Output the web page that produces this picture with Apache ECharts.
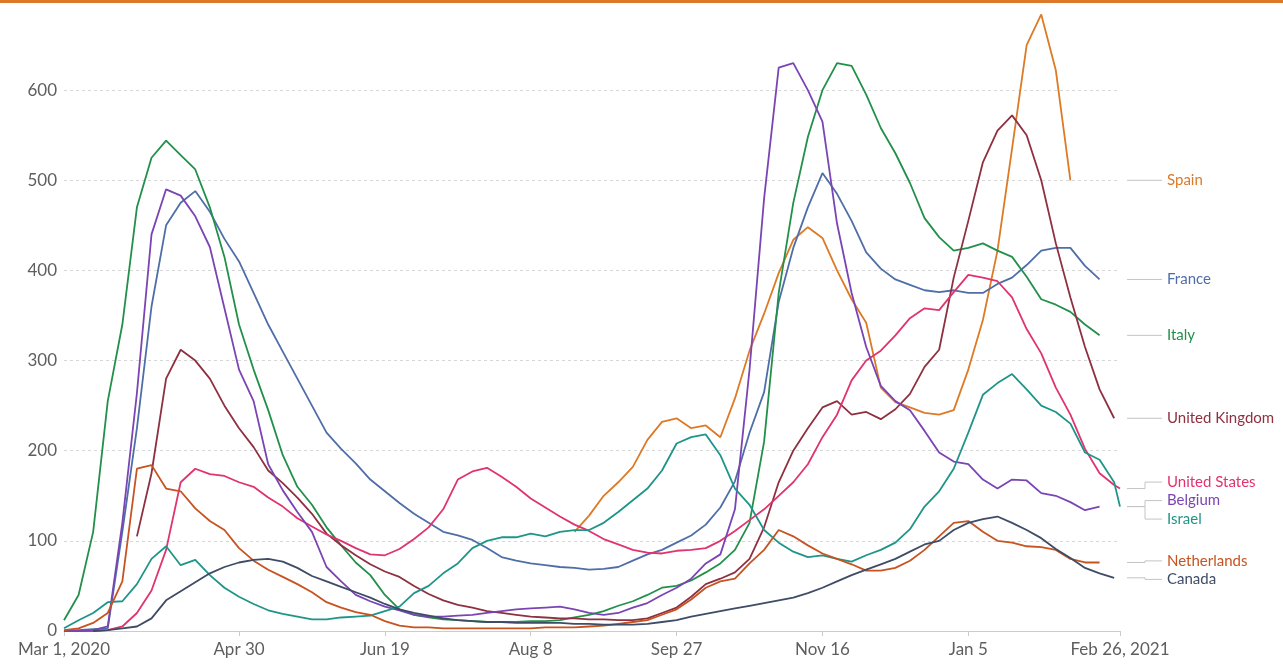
<!DOCTYPE html>
<html>
<head>
<meta charset="utf-8">
<script src="https://cdn.jsdelivr.net/npm/echarts@6/dist/echarts.min.js"></script>
<style>
html, body { margin: 0; padding: 0; background: #fff; }
#chart { width: 1283px; height: 665px; }
</style>
</head>
<body>
<div id="chart"></div>
<script>
'use strict';

// days since Mar 1, 2020 (sampled every 5 days)
var days = [0, 5, 10, 15, 20, 25, 30, 35, 40, 45, 50, 55, 60, 65, 70, 75, 80, 85, 90, 95,
    100, 105, 110, 115, 120, 125, 130, 135, 140, 145, 150, 155, 160, 165, 170, 175, 180, 185, 190, 195,
    200, 205, 210, 215, 220, 225, 230, 235, 240, 245, 250, 255, 260, 265, 270, 275, 280, 285, 290, 295,
    300, 305, 310, 315, 320, 325, 330, 335, 340, 345, 350, 355, 360, 362];

var tickDays = [0, 60, 110, 160, 210, 260, 310, 362];
var tickLabels = ['Mar 1, 2020', 'Apr 30', 'Jun 19', 'Aug 8', 'Sep 27', 'Nov 16', 'Jan 5', 'Feb 26, 2021'];

var spain = [null, null, null, null, null, null, null, null, null, null,
    null, null, null, null, null, null, null, null, null, null,
    null, null, null, null, null, null, null, null, null, null,
    null, null, null, null, null, 110, 128, 150, 165, 182,
    212, 232, 236, 225, 228, 215, 258, 311, 352, 397,
    434, 448, 436, 400, 368, 342, 270, 254, 248, 242,
    240, 245, 290, 345, 422, 535, 650, 684, 622, 500,
    null, null, null, null];
var france = [0, 1, 2, 3, 110, 225, 360, 450, 475, 488,
    465, 435, 410, 375, 340, 310, 280, 250, 220, 202,
    186, 168, 155, 142, 130, 120, 110, 106, 101, 92,
    82, 78, 75, 73, 71, 70, 68, 69, 71, 78,
    85, 90, 98, 106, 118, 137, 166, 220, 265, 365,
    425, 470, 508, 485, 455, 420, 402, 390, 384, 378,
    376, 378, 375, 375, 385, 392, 406, 422, 425, 425,
    405, 390, null, null];
var italy = [12, 40, 110, 255, 340, 470, 525, 544, 528, 512,
    470, 415, 340, 290, 245, 195, 160, 140, 115, 95,
    76, 62, 40, 24, 18, 15, 13, 12, 11, 10,
    10, 10, 11, 11, 12, 15, 18, 22, 28, 33,
    40, 48, 50, 56, 65, 75, 90, 120, 210, 375,
    475, 548, 600, 630, 627, 595, 558, 530, 497, 458,
    437, 422, 425, 430, 422, 415, 393, 368, 362, 354,
    340, 328, null, null];
var unitedKingdom = [null, null, null, null, null, 105, 175, 280, 312, 300,
    280, 250, 225, 204, 178, 164, 148, 130, 108, 95,
    84, 74, 66, 60, 50, 41, 34, 29, 26, 22,
    20, 18, 16, 15, 14, 14, 13, 13, 12, 12,
    14, 20, 26, 38, 52, 58, 65, 80, 115, 165,
    200, 225, 248, 255, 240, 243, 235, 246, 263, 293,
    312, 392, 455, 520, 555, 572, 550, 500, 430, 370,
    315, 268, 236, null];
var unitedStates = [0, 0, 0, 1, 5, 20, 45, 90, 165, 180,
    174, 172, 165, 160, 148, 138, 125, 116, 107, 100,
    92, 85, 84, 91, 102, 115, 135, 168, 177, 181,
    171, 160, 147, 137, 127, 118, 111, 102, 96, 90,
    87, 86, 89, 90, 92, 100, 111, 123, 135, 150,
    165, 185, 215, 240, 278, 300, 311, 328, 347, 358,
    356, 376, 395, 392, 388, 370, 335, 308, 270, 240,
    202, 175, 162, 158];
var belgium = [0, 0, 1, 5, 120, 264, 440, 490, 483, 460,
    426, 358, 290, 255, 185, 156, 132, 110, 71, 55,
    40, 33, 27, 23, 18, 16, 16, 17, 18, 20,
    22, 24, 25, 26, 27, 24, 20, 18, 20, 26,
    31, 40, 48, 58, 75, 85, 135, 290, 480, 625,
    630, 600, 565, 452, 375, 315, 272, 255, 245, 222,
    198, 188, 185, 168, 158, 168, 167, 153, 150, 143,
    134, 138, null, null];
var israel = [3, 12, 20, 32, 33, 52, 80, 94, 73, 79,
    62, 48, 38, 30, 23, 19, 16, 13, 13, 15,
    16, 17, 22, 27, 42, 50, 64, 75, 92, 100,
    104, 104, 108, 105, 110, 112, 112, 120, 132, 145,
    158, 178, 208, 215, 218, 195, 158, 140, 112, 98,
    88, 82, 84, 80, 77, 84, 90, 98, 113, 138,
    155, 180, 220, 262, 275, 285, 268, 250, 243, 230,
    198, 190, 165, 138];
var netherlands = [1, 3, 9, 20, 55, 180, 184, 158, 155, 136,
    122, 112, 92, 78, 68, 60, 52, 43, 32, 26,
    21, 18, 11, 6, 4, 4, 3, 3, 3, 3,
    3, 3, 3, 4, 4, 4, 5, 6, 8, 10,
    12, 18, 24, 35, 48, 55, 58, 75, 90, 112,
    105, 95, 86, 80, 74, 67, 67, 70, 78, 90,
    105, 120, 122, 110, 100, 98, 94, 93, 90, 80,
    76, 76, null, null];
var canada = [null, null, 0, 1, 3, 5, 14, 34, 44, 54,
    64, 71, 76, 79, 80, 77, 70, 61, 55, 49,
    43, 37, 30, 24, 20, 17, 14, 12, 11, 10,
    10, 9, 9, 9, 9, 8, 8, 7, 7, 7,
    8, 10, 12, 16, 19, 22, 25, 28, 31, 34,
    37, 42, 48, 55, 62, 68, 74, 80, 88, 96,
    100, 112, 120, 124, 127, 120, 112, 103, 91, 81,
    70, 64, 59, null];

var countries = ['Spain', 'France', 'Italy', 'United Kingdom', 'United States',
    'Belgium', 'Israel', 'Netherlands', 'Canada'];
var countryValues = [spain, france, italy, unitedKingdom, unitedStates,
    belgium, israel, netherlands, canada];
var countryColors = ['#dd7a26', '#4f6ea8', '#22904a', '#8e3040', '#e0336f',
    '#7b44b4', '#1f958a', '#c75320', '#3e4c66'];

var chart = echarts.init(document.getElementById('chart'));

function toPairs(values) {
    return days.map(function(d, i) {
        return [d, values[i]];
    });
}

var series = countries.map(function(name, i) {
    return {
        name: name,
        type: 'line',
        data: toPairs(countryValues[i]),
        showSymbol: false,
        connectNulls: false,
        lineStyle: { width: 1.8, color: countryColors[i] },
        itemStyle: { color: countryColors[i] }
    };
});

var options = {
    animation: false,
    grid: { left: 64, right: 163, top: 0, bottom: 34 },
    xAxis: {
        type: 'value',
        min: 0,
        max: 362,
        splitLine: { show: false },
        axisLine: { lineStyle: { color: '#cccccc' } },
        axisTick: {
            customValues: tickDays,
            length: 5,
            lineStyle: { color: '#cccccc' }
        },
        axisLabel: {
            customValues: tickDays,
            color: '#5e5e5e',
            fontSize: 17,
            fontFamily: 'Lato',
            margin: 10,
            formatter: function(v) {
                var k = tickDays.indexOf(v);
                return k >= 0 ? tickLabels[k] : '';
            }
        }
    },
    yAxis: {
        type: 'value',
        min: 0,
        max: 700,
        interval: 100,
        axisLine: { show: false },
        axisTick: { show: false },
        splitLine: { lineStyle: { color: '#d6d6d6', type: [3, 3] } },
        axisLabel: {
            color: '#5e5e5e',
            fontSize: 17,
            fontFamily: 'Lato',
            margin: 7,
            showMaxLabel: false
        }
    },
    series: series
};
chart.setOption(options);

// end labels with leader lines, spread apart where they collide
function lastPoint(values) {
    for (var i = values.length - 1; i >= 0; i--) {
        if (values[i] != null) return [days[i], values[i]];
    }
    return null;
}

function placeLabels() {
    var gap = 18.5;
    var items = countries.map(function(name, i) {
        var px = chart.convertToPixel({ gridIndex: 0 }, lastPoint(countryValues[i]));
        return { name: name, color: countryColors[i], y0: px[1], y: px[1] };
    });
    items.sort(function(a, b) { return a.y0 - b.y0; });

    var groups = items.map(function(it) { return [it]; });
    var changed = true;
    while (changed) {
        changed = false;
        groups.forEach(function(g) {
            var mean = 0;
            g.forEach(function(it) { mean += it.y0; });
            mean /= g.length;
            g.forEach(function(it, j) { it.y = mean + (j - (g.length - 1) / 2) * gap; });
        });
        for (var k = 0; k < groups.length - 1; k++) {
            var a = groups[k], b = groups[k + 1];
            if (a[a.length - 1].y + gap > b[0].y) {
                groups.splice(k, 2, a.concat(b));
                changed = true;
                break;
            }
        }
    }

    var x0 = chart.convertToPixel({ gridIndex: 0 }, [362, 0])[0] + 7;
    var xm = x0 + 18;
    var x1 = x0 + 35;
    var graphics = [{
        type: 'rect',
        left: 0,
        top: 0,
        shape: { width: 1283, height: 3 },
        style: { fill: '#dd7a2a' }
    }];
    items.forEach(function(it) {
        var pts = Math.abs(it.y - it.y0) < 1
            ? [[x0, it.y0], [x1, it.y0]]
            : [[x0, it.y0], [xm, it.y0], [xm, it.y], [x1, it.y]];
        graphics.push({
            type: 'polyline',
            shape: { points: pts },
            style: { stroke: '#c4c4c4', lineWidth: 1, fill: null }
        });
        graphics.push({
            type: 'text',
            x: x1 + 5,
            y: it.y,
            style: {
                text: it.name,
                fill: it.color,
                fontSize: 15,
                fontFamily: 'Lato',
                verticalAlign: 'middle'
            }
        });
    });
    chart.setOption({ graphic: graphics });
}
placeLabels();
</script>
</body>
</html>
